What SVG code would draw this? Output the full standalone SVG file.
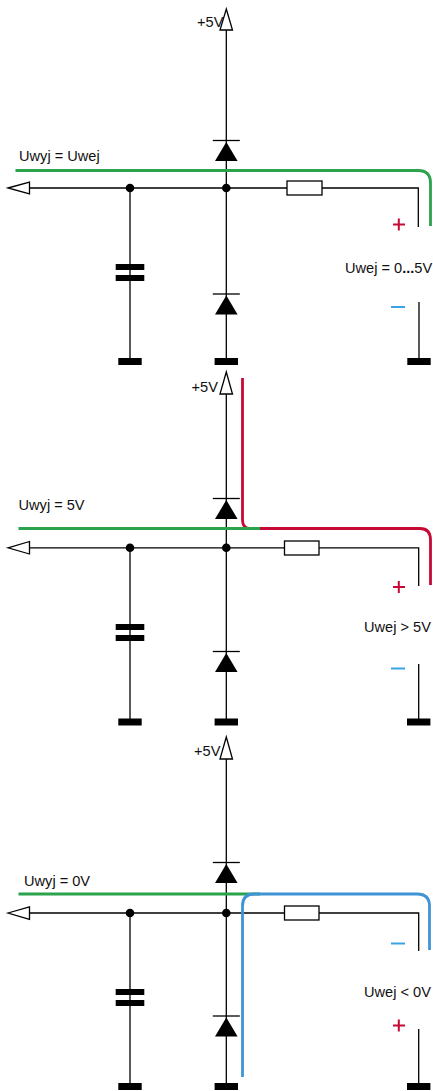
<svg xmlns="http://www.w3.org/2000/svg" width="433" height="1091" viewBox="0 0 433 1091">
<style>
text{font-family:"Liberation Sans",Arial,sans-serif;font-size:14.600px;fill:#111}
.w{fill:none;stroke:#000;stroke-width:1.3}
.o{fill:#fff;stroke:#000;stroke-width:1.3}
.k{fill:#000}
.h{fill:none;stroke-width:2.8}
.g{stroke:#2ba24c}.r{stroke:#c50b35}.b{stroke:#3f94d5}
.p{fill:none;stroke:#c50b35;stroke-width:2}
.m{fill:none;stroke:#3aa3e3;stroke-width:2}
</style>
<defs>
<g id="diode"><path class="w" d="M-13.500 0H13.500"/><path class="k" d="M0 1.500L11.300 20.500H-11.300Z"/></g>
<g id="ground"><rect class="k" x="-11.700" y="0" width="23.400" height="7"/></g>
<g id="cap"><rect class="k" x="-14.300" y="0" width="28.600" height="6"/><rect class="k" x="-14.300" y="11" width="28.600" height="6"/></g>
<circle id="dot" class="k" r="4.300"/>
</defs>

<g id="connectors">
<path class="w" d="M226.300 30V361M29.500 188H287M322 188H418.300V227M130 188V361M419 302V361"/>
<path class="w" d="M226.300 394V721M29.500 547.800H284.500M319 547.800H418.700V586M130 547.800V721M418.700 664V721"/>
<path class="w" d="M226.300 759V1086M29.500 913H284.500M319 913H418.700V951M130 913V1086M418.700 1029V1086"/>
</g>

<g id="panel1">
<g id="p1-vcc"><text x="197" y="27">+5V</text><path class="o" d="M226.300 9L232.500 30H220Z"/></g>
<g id="p1-out"><path class="o" d="M8 188L29.500 182V194Z"/></g>
<g id="p1-d1"><use href="#diode" x="226.300" y="140.500"/></g>
<g id="p1-d2"><use href="#diode" x="226.300" y="294"/></g>
<g id="p1-r"><rect class="o" x="287" y="181" width="35" height="14"/></g>
<g id="p1-c"><use href="#cap" x="130" y="264"/></g>
<g id="p1-j1"><use href="#dot" x="130" y="188"/></g>
<g id="p1-j2"><use href="#dot" x="226.300" y="188"/></g>
<g id="p1-g1"><use href="#ground" x="130" y="358"/></g>
<g id="p1-g2"><use href="#ground" x="226.300" y="358"/></g>
<g id="p1-g3"><use href="#ground" x="419" y="358"/></g>
<path class="h g" d="M15.500 170.500H418Q430.500 170.500 430.500 183V226"/>
<text x="19" y="161">Uwyj = Uwej</text>
<text x="345" y="272.500">Uwej = 0<tspan font-weight="bold">...</tspan>5V</text>
<path class="p" d="M393 224.500H405M398.800 218.500V230.500"/>
<path class="m" d="M391 307H405"/>
</g>

<g id="panel2">
<g id="p2-vcc"><text x="191.500" y="391.500">+5V</text><path class="o" d="M226.300 372L232.500 394H220Z"/></g>
<g id="p2-out"><path class="o" d="M8 547.800L29.500 541.500V554Z"/></g>
<g id="p2-d1"><use href="#diode" x="226.300" y="498.500"/></g>
<g id="p2-d2"><use href="#diode" x="226.300" y="651.500"/></g>
<g id="p2-r"><rect class="o" x="284.500" y="541" width="34.500" height="14"/></g>
<g id="p2-c"><use href="#cap" x="130" y="624"/></g>
<g id="p2-j1"><use href="#dot" x="130" y="547.800"/></g>
<g id="p2-j2"><use href="#dot" x="226.300" y="547.800"/></g>
<g id="p2-g1"><use href="#ground" x="130" y="718.500"/></g>
<g id="p2-g2"><use href="#ground" x="226.300" y="718.500"/></g>
<g id="p2-g3"><use href="#ground" x="418.700" y="718.500"/></g>
<path class="h r" d="M242.500 378V520Q242.500 528.500 250 528.500H420Q430.500 528.500 430.500 540V585"/>
<path class="h g" d="M18.500 528.500H260"/>
<text x="18.500" y="509.500">Uwyj = 5V</text>
<text x="364" y="631.500">Uwej &gt; 5V</text>
<path class="p" d="M393 587H405M398.800 581V593"/>
<path class="m" d="M391 668.500H405"/>
</g>

<g id="panel3">
<g id="p3-vcc"><text x="194" y="755.500">+5V</text><path class="o" d="M226.300 737L232.500 759H220Z"/></g>
<g id="p3-out"><path class="o" d="M8 913L29.500 906.800V919.300Z"/></g>
<g id="p3-d1"><use href="#diode" x="226.300" y="862.500"/></g>
<g id="p3-d2"><use href="#diode" x="226.300" y="1016"/></g>
<g id="p3-r"><rect class="o" x="284.500" y="906" width="34.500" height="14"/></g>
<g id="p3-c"><use href="#cap" x="130" y="989"/></g>
<g id="p3-j1"><use href="#dot" x="130" y="913"/></g>
<g id="p3-j2"><use href="#dot" x="226.300" y="913"/></g>
<g id="p3-g1"><use href="#ground" x="130" y="1083"/></g>
<g id="p3-g2"><use href="#ground" x="226.300" y="1083"/></g>
<g id="p3-g3"><use href="#ground" x="418.700" y="1083"/></g>
<path class="h g" d="M18.500 894H260"/>
<path class="h b" d="M242.500 1077V906Q242.500 894 254 894H417Q429.500 894 429.500 906V950"/>
<text x="24" y="885.500">Uwyj = 0V</text>
<text x="364" y="996.500">Uwej &lt; 0V</text>
<path class="m" d="M391 943.500H405"/>
<path class="p" d="M393 1025.500H405M398.800 1019.500V1031.500"/>
</g>
</svg>
